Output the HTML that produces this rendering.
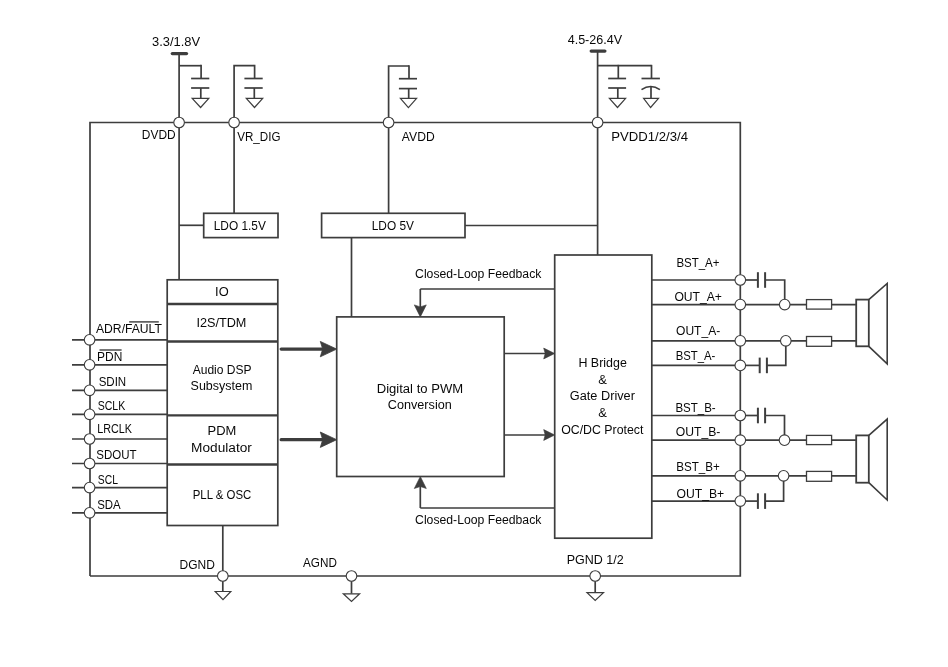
<!DOCTYPE html>
<html><head><meta charset="utf-8"><style>
html,body{margin:0;padding:0;background:#fff;width:948px;height:667px;overflow:hidden}
svg{display:block;will-change:transform}
text{font-family:"Liberation Sans",sans-serif;fill:#080808}
</style></head><body>
<svg width="948" height="667" viewBox="0 0 948 667">
<rect width="948" height="667" fill="#fff"/>
<path d="M172.30,53.60 L186.50,53.60" stroke="#3d3d3d" stroke-width="3.3" fill="none" stroke-linecap="round" stroke-linejoin="miter"/>
<path d="M179.10,53.60 L179.10,279.80" stroke="#3d3d3d" stroke-width="1.7" fill="none" stroke-linecap="butt" stroke-linejoin="miter"/>
<path d="M179.10,65.70 L201.10,65.70" stroke="#3d3d3d" stroke-width="1.7" fill="none" stroke-linecap="butt" stroke-linejoin="miter"/>
<path d="M201.10,64.85 L201.10,78.50" stroke="#3d3d3d" stroke-width="1.7" fill="none" stroke-linecap="butt" stroke-linejoin="miter"/>
<path d="M191.10,78.50 L209.30,78.50" stroke="#3d3d3d" stroke-width="1.7" fill="none" stroke-linecap="butt" stroke-linejoin="miter"/>
<path d="M191.10,88.00 L209.30,88.00" stroke="#3d3d3d" stroke-width="1.7" fill="none" stroke-linecap="butt" stroke-linejoin="miter"/>
<path d="M200.80,88.00 L200.80,98.30" stroke="#3d3d3d" stroke-width="1.7" fill="none" stroke-linecap="butt" stroke-linejoin="miter"/>
<path d="M192.20,98.30 L208.80,98.30 L200.60,107.50 Z" stroke="#3d3d3d" stroke-width="1.2" fill="#fff" stroke-linejoin="miter"/>
<path d="M234.10,213.30 L234.10,65.70 L254.60,65.70" stroke="#3d3d3d" stroke-width="1.7" fill="none" stroke-linecap="butt" stroke-linejoin="miter"/>
<path d="M254.60,64.85 L254.60,78.50" stroke="#3d3d3d" stroke-width="1.7" fill="none" stroke-linecap="butt" stroke-linejoin="miter"/>
<path d="M244.40,78.50 L262.70,78.50" stroke="#3d3d3d" stroke-width="1.7" fill="none" stroke-linecap="butt" stroke-linejoin="miter"/>
<path d="M244.40,88.00 L262.70,88.00" stroke="#3d3d3d" stroke-width="1.7" fill="none" stroke-linecap="butt" stroke-linejoin="miter"/>
<path d="M254.30,88.00 L254.30,98.30" stroke="#3d3d3d" stroke-width="1.7" fill="none" stroke-linecap="butt" stroke-linejoin="miter"/>
<path d="M246.30,98.30 L262.70,98.30 L254.50,107.50 Z" stroke="#3d3d3d" stroke-width="1.2" fill="#fff" stroke-linejoin="miter"/>
<path d="M388.60,213.30 L388.60,66.00 L409.00,66.00" stroke="#3d3d3d" stroke-width="1.7" fill="none" stroke-linecap="butt" stroke-linejoin="miter"/>
<path d="M409.00,65.15 L409.00,78.70" stroke="#3d3d3d" stroke-width="1.7" fill="none" stroke-linecap="butt" stroke-linejoin="miter"/>
<path d="M398.90,78.70 L417.00,78.70" stroke="#3d3d3d" stroke-width="1.7" fill="none" stroke-linecap="butt" stroke-linejoin="miter"/>
<path d="M398.90,88.60 L417.00,88.60" stroke="#3d3d3d" stroke-width="1.7" fill="none" stroke-linecap="butt" stroke-linejoin="miter"/>
<path d="M408.70,88.60 L408.70,98.30" stroke="#3d3d3d" stroke-width="1.7" fill="none" stroke-linecap="butt" stroke-linejoin="miter"/>
<path d="M400.40,98.30 L416.60,98.30 L408.40,107.70 Z" stroke="#3d3d3d" stroke-width="1.2" fill="#fff" stroke-linejoin="miter"/>
<path d="M591.20,51.10 L604.90,51.10" stroke="#3d3d3d" stroke-width="3.3" fill="none" stroke-linecap="round" stroke-linejoin="miter"/>
<path d="M597.60,51.10 L597.60,255.00" stroke="#3d3d3d" stroke-width="1.7" fill="none" stroke-linecap="butt" stroke-linejoin="miter"/>
<path d="M597.60,65.70 L651.50,65.70" stroke="#3d3d3d" stroke-width="1.7" fill="none" stroke-linecap="butt" stroke-linejoin="miter"/>
<path d="M618.30,64.85 L618.30,78.50" stroke="#3d3d3d" stroke-width="1.7" fill="none" stroke-linecap="butt" stroke-linejoin="miter"/>
<path d="M608.20,78.50 L626.10,78.50" stroke="#3d3d3d" stroke-width="1.7" fill="none" stroke-linecap="butt" stroke-linejoin="miter"/>
<path d="M608.20,88.00 L626.10,88.00" stroke="#3d3d3d" stroke-width="1.7" fill="none" stroke-linecap="butt" stroke-linejoin="miter"/>
<path d="M617.80,88.00 L617.80,98.30" stroke="#3d3d3d" stroke-width="1.7" fill="none" stroke-linecap="butt" stroke-linejoin="miter"/>
<path d="M609.40,98.30 L625.60,98.30 L617.50,107.50 Z" stroke="#3d3d3d" stroke-width="1.2" fill="#fff" stroke-linejoin="miter"/>
<path d="M651.50,64.85 L651.50,78.50" stroke="#3d3d3d" stroke-width="1.7" fill="none" stroke-linecap="butt" stroke-linejoin="miter"/>
<path d="M641.50,78.50 L659.90,78.50" stroke="#3d3d3d" stroke-width="1.7" fill="none" stroke-linecap="butt" stroke-linejoin="miter"/>
<path d="M641.50,89.6 Q650.70,83.4 659.90,89.6" stroke="#3d3d3d" stroke-width="1.7" fill="none"/>
<path d="M651.00,86.60 L651.00,98.30" stroke="#3d3d3d" stroke-width="1.7" fill="none" stroke-linecap="butt" stroke-linejoin="miter"/>
<path d="M643.60,98.30 L658.50,98.30 L650.60,107.50 Z" stroke="#3d3d3d" stroke-width="1.2" fill="#fff" stroke-linejoin="miter"/>
<path d="M90.00,576.00 L90.00,122.50 L740.30,122.50 L740.30,576.00 L90.00,576.00" stroke="#3d3d3d" stroke-width="1.7" fill="none" stroke-linecap="butt" stroke-linejoin="miter"/>
<circle cx="179.10" cy="122.50" r="5.3" stroke="#3d3d3d" stroke-width="1.1" fill="#fff"/>
<circle cx="234.10" cy="122.50" r="5.3" stroke="#3d3d3d" stroke-width="1.1" fill="#fff"/>
<circle cx="388.60" cy="122.50" r="5.3" stroke="#3d3d3d" stroke-width="1.1" fill="#fff"/>
<circle cx="597.60" cy="122.50" r="5.3" stroke="#3d3d3d" stroke-width="1.1" fill="#fff"/>
<path d="M179.00,225.30 L203.70,225.30" stroke="#3d3d3d" stroke-width="1.7" fill="none" stroke-linecap="butt" stroke-linejoin="miter"/>
<rect x="203.70" y="213.30" width="74.30" height="24.30" stroke="#3d3d3d" stroke-width="1.7" fill="none"/>
<rect x="321.60" y="213.30" width="143.40" height="24.30" stroke="#3d3d3d" stroke-width="1.7" fill="none"/>
<path d="M465.00,225.50 L597.60,225.50" stroke="#3d3d3d" stroke-width="1.7" fill="none" stroke-linecap="butt" stroke-linejoin="miter"/>
<path d="M351.50,237.60 L351.50,316.90" stroke="#3d3d3d" stroke-width="1.7" fill="none" stroke-linecap="butt" stroke-linejoin="miter"/>
<path d="M72.00,339.80 L167.20,339.80" stroke="#3d3d3d" stroke-width="1.7" fill="none" stroke-linecap="butt" stroke-linejoin="miter"/>
<circle cx="89.60" cy="339.80" r="5.3" stroke="#3d3d3d" stroke-width="1.1" fill="#fff"/>
<path d="M72.00,364.80 L167.20,364.80" stroke="#3d3d3d" stroke-width="1.7" fill="none" stroke-linecap="butt" stroke-linejoin="miter"/>
<circle cx="89.60" cy="364.80" r="5.3" stroke="#3d3d3d" stroke-width="1.1" fill="#fff"/>
<path d="M72.00,390.30 L167.20,390.30" stroke="#3d3d3d" stroke-width="1.7" fill="none" stroke-linecap="butt" stroke-linejoin="miter"/>
<circle cx="89.60" cy="390.30" r="5.3" stroke="#3d3d3d" stroke-width="1.1" fill="#fff"/>
<path d="M72.00,414.30 L167.20,414.30" stroke="#3d3d3d" stroke-width="1.7" fill="none" stroke-linecap="butt" stroke-linejoin="miter"/>
<circle cx="89.60" cy="414.30" r="5.3" stroke="#3d3d3d" stroke-width="1.1" fill="#fff"/>
<path d="M72.00,439.00 L167.20,439.00" stroke="#3d3d3d" stroke-width="1.7" fill="none" stroke-linecap="butt" stroke-linejoin="miter"/>
<circle cx="89.60" cy="439.00" r="5.3" stroke="#3d3d3d" stroke-width="1.1" fill="#fff"/>
<path d="M72.00,463.50 L167.20,463.50" stroke="#3d3d3d" stroke-width="1.7" fill="none" stroke-linecap="butt" stroke-linejoin="miter"/>
<circle cx="89.60" cy="463.50" r="5.3" stroke="#3d3d3d" stroke-width="1.1" fill="#fff"/>
<path d="M72.00,487.60 L167.20,487.60" stroke="#3d3d3d" stroke-width="1.7" fill="none" stroke-linecap="butt" stroke-linejoin="miter"/>
<circle cx="89.60" cy="487.60" r="5.3" stroke="#3d3d3d" stroke-width="1.1" fill="#fff"/>
<path d="M72.00,512.80 L167.20,512.80" stroke="#3d3d3d" stroke-width="1.7" fill="none" stroke-linecap="butt" stroke-linejoin="miter"/>
<circle cx="89.60" cy="512.80" r="5.3" stroke="#3d3d3d" stroke-width="1.1" fill="#fff"/>
<path d="M129.20,321.90 L158.80,321.90" stroke="#3d3d3d" stroke-width="1.4" fill="none" stroke-linecap="butt" stroke-linejoin="miter"/>
<path d="M99.50,350.00 L121.60,350.00" stroke="#3d3d3d" stroke-width="1.4" fill="none" stroke-linecap="butt" stroke-linejoin="miter"/>
<rect x="167.20" y="279.80" width="110.60" height="245.70" stroke="#3d3d3d" stroke-width="1.7" fill="none"/>
<path d="M167.20,304.00 L277.80,304.00" stroke="#3d3d3d" stroke-width="2.3" fill="none" stroke-linecap="butt" stroke-linejoin="miter"/>
<path d="M167.20,341.50 L277.80,341.50" stroke="#3d3d3d" stroke-width="2.3" fill="none" stroke-linecap="butt" stroke-linejoin="miter"/>
<path d="M167.20,415.30 L277.80,415.30" stroke="#3d3d3d" stroke-width="2.3" fill="none" stroke-linecap="butt" stroke-linejoin="miter"/>
<path d="M167.20,464.50 L277.80,464.50" stroke="#3d3d3d" stroke-width="2.3" fill="none" stroke-linecap="butt" stroke-linejoin="miter"/>
<path d="M222.80,525.50 L222.80,591.50" stroke="#3d3d3d" stroke-width="1.7" fill="none" stroke-linecap="butt" stroke-linejoin="miter"/>
<circle cx="222.80" cy="576.00" r="5.3" stroke="#3d3d3d" stroke-width="1.1" fill="#fff"/>
<path d="M215.20,591.50 L230.80,591.50 L223.00,599.60 Z" stroke="#3d3d3d" stroke-width="1.2" fill="#fff" stroke-linejoin="miter"/>
<path d="M351.50,576.00 L351.50,593.80" stroke="#3d3d3d" stroke-width="1.7" fill="none" stroke-linecap="butt" stroke-linejoin="miter"/>
<circle cx="351.50" cy="576.00" r="5.3" stroke="#3d3d3d" stroke-width="1.1" fill="#fff"/>
<path d="M343.30,593.80 L359.60,593.80 L351.50,601.50 Z" stroke="#3d3d3d" stroke-width="1.2" fill="#fff" stroke-linejoin="miter"/>
<path d="M595.20,576.00 L595.20,592.70" stroke="#3d3d3d" stroke-width="1.7" fill="none" stroke-linecap="butt" stroke-linejoin="miter"/>
<circle cx="595.20" cy="576.00" r="5.3" stroke="#3d3d3d" stroke-width="1.1" fill="#fff"/>
<path d="M587.00,592.70 L603.50,592.70 L595.20,600.50 Z" stroke="#3d3d3d" stroke-width="1.2" fill="#fff" stroke-linejoin="miter"/>
<rect x="336.70" y="316.90" width="167.50" height="159.60" stroke="#3d3d3d" stroke-width="1.7" fill="none"/>
<path d="M281.20,349.10 L324.70,349.10" stroke="#3d3d3d" stroke-width="3.3" fill="none" stroke-linecap="round" stroke-linejoin="miter"/>
<path d="M320.30,341.40 L336.70,349.10 L320.30,356.80 L322.70,349.10 Z" stroke="#3d3d3d" stroke-width="0.8" fill="#3d3d3d" stroke-linejoin="miter"/>
<path d="M281.20,439.70 L324.70,439.70" stroke="#3d3d3d" stroke-width="3.3" fill="none" stroke-linecap="round" stroke-linejoin="miter"/>
<path d="M320.30,432.00 L336.70,439.70 L320.30,447.40 L322.70,439.70 Z" stroke="#3d3d3d" stroke-width="0.8" fill="#3d3d3d" stroke-linejoin="miter"/>
<path d="M504.20,353.50 L546.70,353.50" stroke="#3d3d3d" stroke-width="1.7" fill="none" stroke-linecap="butt" stroke-linejoin="miter"/>
<path d="M543.70,348.10 L554.70,353.50 L543.70,358.90 L545.20,353.50 Z" stroke="#3d3d3d" stroke-width="0.6" fill="#3d3d3d" stroke-linejoin="miter"/>
<path d="M504.20,435.00 L546.70,435.00" stroke="#3d3d3d" stroke-width="1.7" fill="none" stroke-linecap="butt" stroke-linejoin="miter"/>
<path d="M543.70,429.60 L554.70,435.00 L543.70,440.40 L545.20,435.00 Z" stroke="#3d3d3d" stroke-width="0.6" fill="#3d3d3d" stroke-linejoin="miter"/>
<path d="M554.70,289.00 L420.30,289.00" stroke="#3d3d3d" stroke-width="1.7" fill="none" stroke-linecap="butt" stroke-linejoin="miter"/>
<path d="M420.30,289.00 L420.30,308.90" stroke="#3d3d3d" stroke-width="1.7" fill="none" stroke-linecap="butt" stroke-linejoin="miter"/>
<path d="M414.30,304.90 L420.30,316.90 L426.30,304.90 L420.30,306.90 Z" stroke="#3d3d3d" stroke-width="0.6" fill="#3d3d3d" stroke-linejoin="miter"/>
<path d="M554.70,508.00 L420.30,508.00" stroke="#3d3d3d" stroke-width="1.7" fill="none" stroke-linecap="butt" stroke-linejoin="miter"/>
<path d="M420.30,508.00 L420.30,484.50" stroke="#3d3d3d" stroke-width="1.7" fill="none" stroke-linecap="butt" stroke-linejoin="miter"/>
<path d="M414.30,488.50 L420.30,476.50 L426.30,488.50 L420.30,486.50 Z" stroke="#3d3d3d" stroke-width="0.6" fill="#3d3d3d" stroke-linejoin="miter"/>
<rect x="554.70" y="255.00" width="97.10" height="283.20" stroke="#3d3d3d" stroke-width="1.7" fill="none"/>
<path d="M651.80,280.00 L740.30,280.00" stroke="#3d3d3d" stroke-width="1.7" fill="none" stroke-linecap="butt" stroke-linejoin="miter"/>
<path d="M651.80,304.60 L740.30,304.60" stroke="#3d3d3d" stroke-width="1.7" fill="none" stroke-linecap="butt" stroke-linejoin="miter"/>
<path d="M651.80,340.80 L740.30,340.80" stroke="#3d3d3d" stroke-width="1.7" fill="none" stroke-linecap="butt" stroke-linejoin="miter"/>
<path d="M651.80,365.40 L740.30,365.40" stroke="#3d3d3d" stroke-width="1.7" fill="none" stroke-linecap="butt" stroke-linejoin="miter"/>
<path d="M651.80,415.50 L740.30,415.50" stroke="#3d3d3d" stroke-width="1.7" fill="none" stroke-linecap="butt" stroke-linejoin="miter"/>
<path d="M651.80,440.20 L740.30,440.20" stroke="#3d3d3d" stroke-width="1.7" fill="none" stroke-linecap="butt" stroke-linejoin="miter"/>
<path d="M651.80,475.80 L740.30,475.80" stroke="#3d3d3d" stroke-width="1.7" fill="none" stroke-linecap="butt" stroke-linejoin="miter"/>
<path d="M651.80,501.10 L740.30,501.10" stroke="#3d3d3d" stroke-width="1.7" fill="none" stroke-linecap="butt" stroke-linejoin="miter"/>
<path d="M740.30,280.00 L757.90,280.00" stroke="#3d3d3d" stroke-width="1.7" fill="none" stroke-linecap="butt" stroke-linejoin="miter"/>
<path d="M757.90,272.20 L757.90,287.80" stroke="#3d3d3d" stroke-width="2" fill="none" stroke-linecap="butt" stroke-linejoin="miter"/>
<path d="M765.10,272.20 L765.10,287.80" stroke="#3d3d3d" stroke-width="2" fill="none" stroke-linecap="butt" stroke-linejoin="miter"/>
<path d="M765.10,280.00 L784.70,280.00 L784.70,304.60" stroke="#3d3d3d" stroke-width="1.7" fill="none" stroke-linecap="butt" stroke-linejoin="miter"/>
<path d="M740.30,304.60 L855.90,304.60" stroke="#3d3d3d" stroke-width="1.7" fill="none" stroke-linecap="butt" stroke-linejoin="miter"/>
<path d="M740.30,340.80 L855.90,340.80" stroke="#3d3d3d" stroke-width="1.7" fill="none" stroke-linecap="butt" stroke-linejoin="miter"/>
<path d="M740.30,365.40 L759.70,365.40" stroke="#3d3d3d" stroke-width="1.7" fill="none" stroke-linecap="butt" stroke-linejoin="miter"/>
<path d="M759.70,357.60 L759.70,373.20" stroke="#3d3d3d" stroke-width="2" fill="none" stroke-linecap="butt" stroke-linejoin="miter"/>
<path d="M766.90,357.60 L766.90,373.20" stroke="#3d3d3d" stroke-width="2" fill="none" stroke-linecap="butt" stroke-linejoin="miter"/>
<path d="M766.90,365.40 L785.80,365.40 L785.80,340.80" stroke="#3d3d3d" stroke-width="1.7" fill="none" stroke-linecap="butt" stroke-linejoin="miter"/>
<rect x="806.50" y="299.60" width="25.10" height="9.50" stroke="#3d3d3d" stroke-width="1.3" fill="#fff"/>
<rect x="806.50" y="336.50" width="25.10" height="9.80" stroke="#3d3d3d" stroke-width="1.3" fill="#fff"/>
<circle cx="784.70" cy="304.60" r="5.3" stroke="#3d3d3d" stroke-width="1.1" fill="#fff"/>
<circle cx="785.80" cy="340.80" r="5.3" stroke="#3d3d3d" stroke-width="1.1" fill="#fff"/>
<circle cx="740.30" cy="280.00" r="5.3" stroke="#3d3d3d" stroke-width="1.1" fill="#fff"/>
<circle cx="740.30" cy="304.60" r="5.3" stroke="#3d3d3d" stroke-width="1.1" fill="#fff"/>
<circle cx="740.30" cy="340.80" r="5.3" stroke="#3d3d3d" stroke-width="1.1" fill="#fff"/>
<circle cx="740.30" cy="365.40" r="5.3" stroke="#3d3d3d" stroke-width="1.1" fill="#fff"/>
<rect x="856.20" y="299.60" width="12.60" height="46.70" stroke="#3d3d3d" stroke-width="1.8" fill="#fff"/>
<path d="M868.80,299.60 L887.20,283.40 L887.20,363.90 L868.80,346.30" stroke="#3d3d3d" stroke-width="1.6" fill="none" stroke-linecap="butt" stroke-linejoin="miter"/>
<path d="M740.30,415.50 L757.90,415.50" stroke="#3d3d3d" stroke-width="1.7" fill="none" stroke-linecap="butt" stroke-linejoin="miter"/>
<path d="M757.90,407.70 L757.90,423.30" stroke="#3d3d3d" stroke-width="2" fill="none" stroke-linecap="butt" stroke-linejoin="miter"/>
<path d="M765.10,407.70 L765.10,423.30" stroke="#3d3d3d" stroke-width="2" fill="none" stroke-linecap="butt" stroke-linejoin="miter"/>
<path d="M765.10,415.50 L784.50,415.50 L784.50,440.20" stroke="#3d3d3d" stroke-width="1.7" fill="none" stroke-linecap="butt" stroke-linejoin="miter"/>
<path d="M740.30,440.20 L855.90,440.20" stroke="#3d3d3d" stroke-width="1.7" fill="none" stroke-linecap="butt" stroke-linejoin="miter"/>
<path d="M740.30,475.80 L855.90,475.80" stroke="#3d3d3d" stroke-width="1.7" fill="none" stroke-linecap="butt" stroke-linejoin="miter"/>
<path d="M740.30,501.10 L757.90,501.10" stroke="#3d3d3d" stroke-width="1.7" fill="none" stroke-linecap="butt" stroke-linejoin="miter"/>
<path d="M757.90,493.30 L757.90,508.90" stroke="#3d3d3d" stroke-width="2" fill="none" stroke-linecap="butt" stroke-linejoin="miter"/>
<path d="M765.10,493.30 L765.10,508.90" stroke="#3d3d3d" stroke-width="2" fill="none" stroke-linecap="butt" stroke-linejoin="miter"/>
<path d="M765.10,501.10 L783.60,501.10 L783.60,475.80" stroke="#3d3d3d" stroke-width="1.7" fill="none" stroke-linecap="butt" stroke-linejoin="miter"/>
<rect x="806.50" y="435.40" width="25.10" height="9.20" stroke="#3d3d3d" stroke-width="1.3" fill="#fff"/>
<rect x="806.50" y="471.40" width="25.10" height="9.90" stroke="#3d3d3d" stroke-width="1.3" fill="#fff"/>
<circle cx="784.50" cy="440.20" r="5.3" stroke="#3d3d3d" stroke-width="1.1" fill="#fff"/>
<circle cx="783.60" cy="475.80" r="5.3" stroke="#3d3d3d" stroke-width="1.1" fill="#fff"/>
<circle cx="740.30" cy="415.50" r="5.3" stroke="#3d3d3d" stroke-width="1.1" fill="#fff"/>
<circle cx="740.30" cy="440.20" r="5.3" stroke="#3d3d3d" stroke-width="1.1" fill="#fff"/>
<circle cx="740.30" cy="475.80" r="5.3" stroke="#3d3d3d" stroke-width="1.1" fill="#fff"/>
<circle cx="740.30" cy="501.10" r="5.3" stroke="#3d3d3d" stroke-width="1.1" fill="#fff"/>
<rect x="856.20" y="435.40" width="12.60" height="47.30" stroke="#3d3d3d" stroke-width="1.8" fill="#fff"/>
<path d="M868.80,435.40 L887.20,419.10 L887.20,500.00 L868.80,482.70" stroke="#3d3d3d" stroke-width="1.6" fill="none" stroke-linecap="butt" stroke-linejoin="miter"/>
<text x="152.05" y="46.20" font-size="12" textLength="48.05" lengthAdjust="spacingAndGlyphs">3.3/1.8V</text>
<text x="567.68" y="43.80" font-size="12" textLength="54.43" lengthAdjust="spacingAndGlyphs">4.5-26.4V</text>
<text x="141.86" y="138.50" font-size="12" textLength="33.78" lengthAdjust="spacingAndGlyphs">DVDD</text>
<text x="237.21" y="140.90" font-size="12" textLength="43.24" lengthAdjust="spacingAndGlyphs">VR_DIG</text>
<text x="401.89" y="140.90" font-size="12" textLength="32.75" lengthAdjust="spacingAndGlyphs">AVDD</text>
<text x="611.35" y="140.90" font-size="12" textLength="76.63" lengthAdjust="spacingAndGlyphs">PVDD1/2/3/4</text>
<text x="213.75" y="229.50" font-size="12" textLength="52.06" lengthAdjust="spacingAndGlyphs">LDO 1.5V</text>
<text x="371.76" y="229.50" font-size="12" textLength="42.15" lengthAdjust="spacingAndGlyphs">LDO 5V</text>
<text x="96.01" y="332.60" font-size="12" textLength="65.89" lengthAdjust="spacingAndGlyphs">ADR/FAULT</text>
<text x="97.07" y="361.40" font-size="12" textLength="25.28" lengthAdjust="spacingAndGlyphs">PDN</text>
<text x="98.64" y="385.50" font-size="12" textLength="27.55" lengthAdjust="spacingAndGlyphs">SDIN</text>
<text x="97.69" y="410.00" font-size="12" textLength="27.61" lengthAdjust="spacingAndGlyphs">SCLK</text>
<text x="97.30" y="432.90" font-size="12" textLength="34.71" lengthAdjust="spacingAndGlyphs">LRCLK</text>
<text x="96.23" y="459.20" font-size="12" textLength="40.23" lengthAdjust="spacingAndGlyphs">SDOUT</text>
<text x="97.77" y="483.80" font-size="12" textLength="20.14" lengthAdjust="spacingAndGlyphs">SCL</text>
<text x="97.22" y="508.70" font-size="12" textLength="23.53" lengthAdjust="spacingAndGlyphs">SDA</text>
<text x="215.09" y="295.70" font-size="12" textLength="13.58" lengthAdjust="spacingAndGlyphs">IO</text>
<text x="196.43" y="327.20" font-size="12" textLength="50.01" lengthAdjust="spacingAndGlyphs">I2S/TDM</text>
<text x="192.67" y="373.90" font-size="12" textLength="58.87" lengthAdjust="spacingAndGlyphs">Audio DSP</text>
<text x="190.60" y="389.80" font-size="12" textLength="61.72" lengthAdjust="spacingAndGlyphs">Subsystem</text>
<text x="207.61" y="435.20" font-size="12" textLength="28.74" lengthAdjust="spacingAndGlyphs">PDM</text>
<text x="191.13" y="451.70" font-size="12" textLength="60.75" lengthAdjust="spacingAndGlyphs">Modulator</text>
<text x="192.70" y="498.70" font-size="12" textLength="58.61" lengthAdjust="spacingAndGlyphs">PLL &amp; OSC</text>
<text x="179.62" y="569.00" font-size="12" textLength="35.31" lengthAdjust="spacingAndGlyphs">DGND</text>
<text x="303.06" y="566.70" font-size="12" textLength="33.80" lengthAdjust="spacingAndGlyphs">AGND</text>
<text x="566.73" y="564.30" font-size="12" textLength="56.91" lengthAdjust="spacingAndGlyphs">PGND 1/2</text>
<text x="376.69" y="392.60" font-size="12" textLength="86.44" lengthAdjust="spacingAndGlyphs">Digital to PWM</text>
<text x="387.85" y="409.00" font-size="12" textLength="63.92" lengthAdjust="spacingAndGlyphs">Conversion</text>
<text x="415.07" y="278.00" font-size="12" textLength="126.29" lengthAdjust="spacingAndGlyphs">Closed-Loop Feedback</text>
<text x="415.07" y="524.00" font-size="12" textLength="126.29" lengthAdjust="spacingAndGlyphs">Closed-Loop Feedback</text>
<text x="578.45" y="367.20" font-size="12" textLength="48.38" lengthAdjust="spacingAndGlyphs">H Bridge</text>
<text x="598.36" y="384.10" font-size="12" textLength="8.67" lengthAdjust="spacingAndGlyphs">&amp;</text>
<text x="569.89" y="400.40" font-size="12" textLength="65.01" lengthAdjust="spacingAndGlyphs">Gate Driver</text>
<text x="598.36" y="417.20" font-size="12" textLength="8.67" lengthAdjust="spacingAndGlyphs">&amp;</text>
<text x="561.17" y="433.50" font-size="12" textLength="82.25" lengthAdjust="spacingAndGlyphs">OC/DC Protect</text>
<text x="676.39" y="266.50" font-size="12" textLength="43.10" lengthAdjust="spacingAndGlyphs">BST_A+</text>
<text x="674.40" y="300.70" font-size="12" textLength="47.55" lengthAdjust="spacingAndGlyphs">OUT_A+</text>
<text x="676.05" y="334.50" font-size="12" textLength="44.14" lengthAdjust="spacingAndGlyphs">OUT_A-</text>
<text x="675.70" y="359.70" font-size="12" textLength="39.67" lengthAdjust="spacingAndGlyphs">BST_A-</text>
<text x="675.40" y="411.90" font-size="12" textLength="40.29" lengthAdjust="spacingAndGlyphs">BST_B-</text>
<text x="675.74" y="436.10" font-size="12" textLength="44.60" lengthAdjust="spacingAndGlyphs">OUT_B-</text>
<text x="676.17" y="471.00" font-size="12" textLength="43.52" lengthAdjust="spacingAndGlyphs">BST_B+</text>
<text x="676.48" y="497.80" font-size="12" textLength="47.66" lengthAdjust="spacingAndGlyphs">OUT_B+</text>
</svg>
</body></html>
